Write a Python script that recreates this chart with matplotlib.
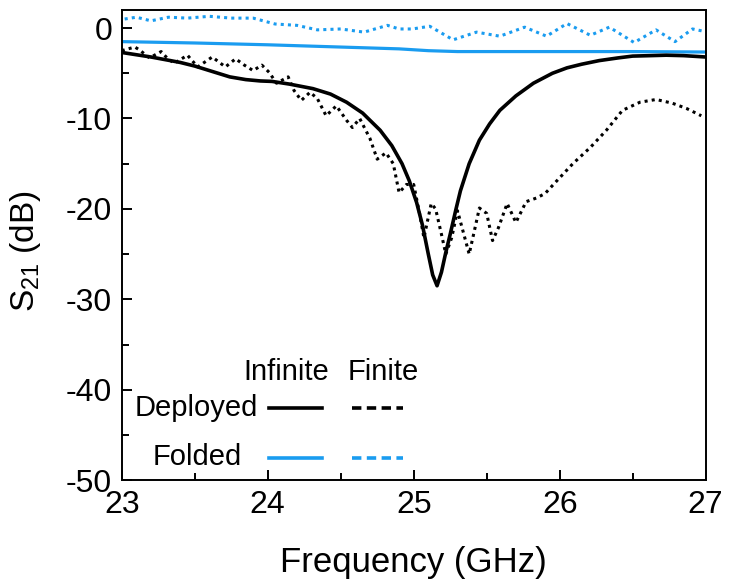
import matplotlib
matplotlib.use("Agg")
import matplotlib.pyplot as plt
from matplotlib.lines import Line2D
from matplotlib.ticker import MultipleLocator

plt.rcParams['font.family'] = ['Liberation Sans', 'DejaVu Sans']
plt.rcParams['axes.unicode_minus'] = False
plt.rcParams['mathtext.fontset'] = 'custom'
plt.rcParams['mathtext.rm'] = 'Liberation Sans'
plt.rcParams['mathtext.it'] = 'Liberation Sans'
plt.rcParams['mathtext.default'] = 'regular'

# Deployed, infinite (solid black)
dep_inf_f = [23.0, 23.2, 23.4, 23.5, 23.6, 23.74, 23.85, 23.95, 24.03, 24.15, 24.31, 24.43, 24.54,
             24.65, 24.77, 24.85, 24.92, 24.97, 25.02, 25.06, 25.1, 25.13, 25.16, 25.19,
             25.22, 25.25, 25.29, 25.32, 25.38, 25.45, 25.52, 25.59, 25.7, 25.82, 25.95,
             26.05, 26.15, 26.27, 26.4, 26.5, 26.62, 26.73, 26.85, 27.0]
dep_inf_s = [-2.7, -3.2, -3.8, -4.2, -4.7, -5.4, -5.7, -5.85, -5.9, -6.2, -6.7, -7.3, -8.2,
             -9.4, -11.3, -13.0, -15.0, -16.9, -19.3, -21.8, -25.0, -27.3, -28.5, -27.0,
             -24.8, -22.8, -20.0, -18.0, -15.0, -12.4, -10.6, -9.1, -7.5, -6.1, -5.0,
             -4.4, -4.0, -3.6, -3.3, -3.1, -3.05, -3.0, -3.05, -3.2]

# Deployed, finite (dotted black)
dep_fin_f = [23.0, 23.02, 23.09, 23.12, 23.19, 23.27, 23.31, 23.36, 23.45, 23.52, 23.62,
             23.71, 23.78, 23.84, 23.9, 23.96, 24.01, 24.06, 24.14, 24.18, 24.23, 24.29,
             24.34, 24.4, 24.47, 24.54, 24.58, 24.63, 24.7, 24.75, 24.81, 24.86, 24.9,
             24.95, 25.0, 25.04, 25.07, 25.12, 25.15, 25.19, 25.22, 25.26, 25.3, 25.35,
             25.38, 25.42, 25.45, 25.5, 25.54, 25.58, 25.64, 25.7, 25.77, 25.84, 25.9,
             25.98, 26.09, 26.21, 26.32, 26.43, 26.55, 26.66, 26.77, 26.87, 26.97]
dep_fin_s = [-2.5, -2.4, -2.1, -2.4, -3.3, -2.6, -3.3, -3.9, -3.0, -4.3, -3.2,
             -4.3, -3.4, -4.1, -4.7, -4.1, -4.9, -6.1, -5.4, -6.9, -8.0, -7.1,
             -7.8, -9.7, -8.6, -10.2, -11.0, -10.0, -12.2, -14.5, -13.8, -15.0, -18.2,
             -17.3, -17.3, -20.5, -23.2, -19.4, -20.0, -22.8, -25.0, -23.2, -20.2, -23.2,
             -25.0, -22.1, -19.9, -20.5, -23.5, -22.1, -19.4, -21.5, -19.2, -18.8, -18.3,
             -16.9, -15.0, -13.2, -11.3, -9.1, -8.2, -7.9, -8.3, -8.9, -9.7]

# Folded, infinite (solid blue)
fol_inf_f = [23.0, 23.5, 24.0, 24.5, 24.9, 25.1, 25.3, 25.6, 26.0, 26.5, 27.0]
fol_inf_s = [-1.5, -1.65, -1.85, -2.1, -2.3, -2.5, -2.6, -2.6, -2.6, -2.6, -2.65]

# Folded, finite (dotted blue)
fol_fin_f = [23.02, 23.1, 23.2, 23.32, 23.45, 23.6, 23.75, 23.9, 24.05, 24.2, 24.34,
             24.5, 24.66, 24.82, 24.9, 24.99, 25.11, 25.27, 25.43, 25.59, 25.76, 25.91,
             26.05, 26.21, 26.34, 26.51, 26.66, 26.79, 26.91, 27.0]
fol_fin_s = [1.0, 1.2, 0.8, 1.2, 1.1, 1.3, 1.1, 1.1, 0.45, 0.3, -0.2,
             -0.1, -0.45, 0.3, -0.1, -0.1, 0.2, -1.3, -0.45, -0.9, 0.1, -0.9,
             0.5, -0.8, 0.1, -1.6, -0.2, -1.5, -0.1, -0.4]

xticks = [23, 24, 25, 26, 27]
yticks = [0, -10, -20, -30, -40, -50]

BLUE = '#1a9cf0'
BLACK = '#000000'

fig = plt.figure(figsize=(7.29, 5.87), dpi=100)
ax = fig.add_axes([0.167, 0.182, 0.801, 0.801])

dot = (0, (1.0, 1.35))
ax.plot(fol_fin_f, fol_fin_s, color=BLUE, lw=2.2, linestyle=dot)
ax.plot(fol_inf_f, fol_inf_s, color=BLUE, lw=2.3)
ax.plot(dep_fin_f, dep_fin_s, color=BLACK, lw=2.2, linestyle=dot)
ax.plot(dep_inf_f, dep_inf_s, color=BLACK, lw=2.6)

ax.set_xlim(23, 27)
ax.set_ylim(-50, 2)
ax.set_xticks(xticks)
ax.set_yticks(yticks)
ax.xaxis.set_minor_locator(MultipleLocator(0.5))
ax.yaxis.set_minor_locator(MultipleLocator(5))
ax.tick_params(which='both', direction='in', top=False, right=False, width=1.4)
ax.tick_params(which='major', length=7, labelsize=23, pad=7)
ax.tick_params(which='minor', length=5)
for s in ax.spines.values():
    s.set_linewidth(1.4)

ax.set_xlabel('Frequency (GHz)', fontsize=25, labelpad=19)
ax.set_ylabel('S$_{21}$ (dB)', fontsize=24)
ax.yaxis.set_label_coords(-0.135, 0.487)

# custom legend table
tf = 21
ax.text(24.13, -38.0, 'Infinite', fontsize=tf, ha='center', va='center')
ax.text(24.79, -38.0, 'Finite', fontsize=tf, ha='center', va='center')
ax.text(23.93, -42.0, 'Deployed', fontsize=tf, ha='right', va='center')
ax.text(23.82, -47.4, 'Folded', fontsize=tf, ha='right', va='center')
ax.add_line(Line2D([24.01, 24.37], [-42.0, -42.0], color=BLACK, lw=2.6))
ax.add_line(Line2D([24.01, 24.37], [-47.5, -47.5], color=BLUE, lw=2.6))
ax.add_line(Line2D([24.58, 24.93], [-42.0, -42.0], color=BLACK, lw=2.6, linestyle=(0, (2.6, 1.5))))
ax.add_line(Line2D([24.58, 24.93], [-47.5, -47.5], color=BLUE, lw=2.6, linestyle=(0, (2.6, 1.5))))

fig.savefig('out.png', dpi=100)
